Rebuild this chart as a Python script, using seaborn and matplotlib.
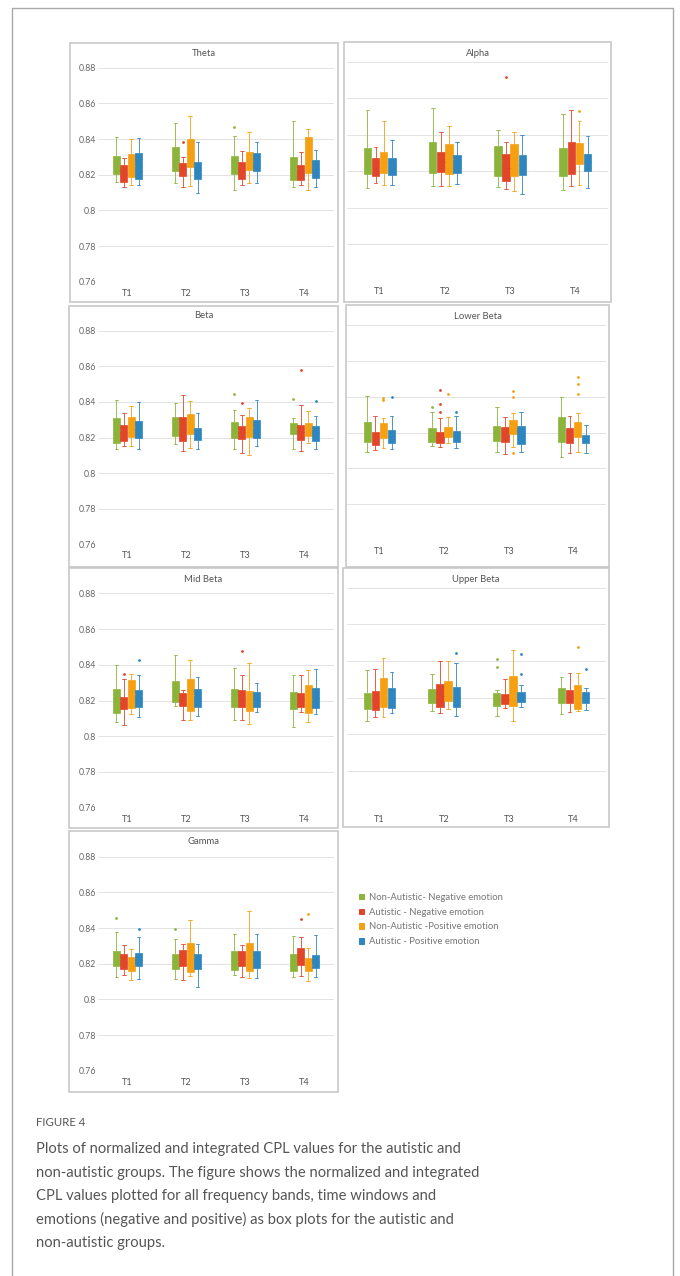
import numpy as np
import pandas as pd
import matplotlib
matplotlib.use("Agg")
import matplotlib.pyplot as plt
from matplotlib.patches import Rectangle
from matplotlib.lines import Line2D
import seaborn as sns

# ---------------- data ----------------
TIMES = ["T1", "T2", "T3", "T4"]
GROUPS = ["Non-Autistic- Negative emotion", "Autistic - Negative emotion",
          "Non-Autistic -Positive emotion", "Autistic - Positive emotion"]
COLORS = ["#8cb43a", "#e1452a", "#f5a013", "#2d86bf"]
Y_TICKS = [0.76, 0.78, 0.80, 0.82, 0.84, 0.86, 0.88]
Y_TICK_LABELS = ["0.76", "0.78", "0.8", "0.82", "0.84", "0.86", "0.88"]

# per time window -> per group: (whisker low, Q1, median, Q3, whisker high)
THETA = [
    [(0.8160, 0.8204, 0.8250, 0.8305, 0.8409), (0.8129, 0.8160, 0.8205, 0.8254, 0.8295),
     (0.8140, 0.8189, 0.8250, 0.8314, 0.8398), (0.8142, 0.8174, 0.8245, 0.8320, 0.8404)],
    [(0.8151, 0.8218, 0.8285, 0.8357, 0.8488), (0.8132, 0.8194, 0.8230, 0.8263, 0.8297),
     (0.8136, 0.8241, 0.8320, 0.8400, 0.8529), (0.8095, 0.8174, 0.8225, 0.8273, 0.8381)],
    [(0.8117, 0.8203, 0.8255, 0.8306, 0.8417), (0.8145, 0.8177, 0.8225, 0.8271, 0.8334),
     (0.8155, 0.8226, 0.8275, 0.8327, 0.8441), (0.8155, 0.8220, 0.8270, 0.8323, 0.8385)],
    [(0.8132, 0.8170, 0.8235, 0.8300, 0.8503), (0.8140, 0.8168, 0.8210, 0.8252, 0.8329),
     (0.8114, 0.8207, 0.8310, 0.8413, 0.8456), (0.8132, 0.8183, 0.8230, 0.8282, 0.8338)],
]
THETA_OUT = [("T2", 1, 0.8381), ("T3", 0, 0.8465)]

ALPHA = [
    [(0.8110, 0.8183, 0.8255, 0.8328, 0.8536), (0.8136, 0.8174, 0.8225, 0.8275, 0.8334),
     (0.8123, 0.8193, 0.8250, 0.8308, 0.8477), (0.8127, 0.8182, 0.8225, 0.8273, 0.8374)],
    [(0.8121, 0.8191, 0.8275, 0.8361, 0.8545), (0.8121, 0.8194, 0.8250, 0.8308, 0.8417),
     (0.8121, 0.8183, 0.8265, 0.8347, 0.8448), (0.8128, 0.8191, 0.8240, 0.8290, 0.8361)],
    [(0.8114, 0.8172, 0.8255, 0.8339, 0.8426), (0.8101, 0.8145, 0.8220, 0.8297, 0.8361),
     (0.8092, 0.8172, 0.8260, 0.8349, 0.8417), (0.8077, 0.8178, 0.8235, 0.8290, 0.8398)],
    [(0.8099, 0.8174, 0.8250, 0.8325, 0.8517), (0.8117, 0.8187, 0.8275, 0.8360, 0.8536),
     (0.8123, 0.8242, 0.8300, 0.8356, 0.8477), (0.8110, 0.8200, 0.8250, 0.8297, 0.8393)],
]
ALPHA_OUT = [("T3", 1, 0.8719), ("T4", 2, 0.8532)]

BETA = [
    [(0.8136, 0.8170, 0.8240, 0.8308, 0.8408), (0.8151, 0.8183, 0.8230, 0.8273, 0.8338),
     (0.8151, 0.8204, 0.8260, 0.8314, 0.8376), (0.8136, 0.8196, 0.8245, 0.8290, 0.8400)],
    [(0.8166, 0.8207, 0.8260, 0.8316, 0.8394), (0.8123, 0.8179, 0.8250, 0.8316, 0.8437),
     (0.8142, 0.8217, 0.8275, 0.8333, 0.8404), (0.8136, 0.8185, 0.8220, 0.8254, 0.8338)],
    [(0.8136, 0.8198, 0.8240, 0.8286, 0.8357), (0.8114, 0.8189, 0.8230, 0.8267, 0.8329),
     (0.8099, 0.8204, 0.8260, 0.8314, 0.8366), (0.8151, 0.8198, 0.8250, 0.8301, 0.8409)],
    [(0.8136, 0.8217, 0.8250, 0.8279, 0.8310), (0.8123, 0.8185, 0.8230, 0.8273, 0.8385),
     (0.8170, 0.8211, 0.8245, 0.8279, 0.8348), (0.8136, 0.8179, 0.8225, 0.8267, 0.8320)],
]
BETA_OUT = [("T3", 0, 0.8445), ("T3", 1, 0.8396), ("T4", 0, 0.8419),
            ("T4", 1, 0.8581), ("T4", 3, 0.8404)]

LOWER_BETA = [
    [(0.8093, 0.8149, 0.8200, 0.8257, 0.8404), (0.8102, 0.8130, 0.8170, 0.8205, 0.8292),
     (0.8116, 0.8168, 0.8210, 0.8255, 0.8279), (0.8106, 0.8143, 0.8180, 0.8214, 0.8292)],
    [(0.8125, 0.8149, 0.8185, 0.8223, 0.8316), (0.8121, 0.8140, 0.8175, 0.8205, 0.8279),
     (0.8140, 0.8173, 0.8205, 0.8233, 0.8288), (0.8112, 0.8149, 0.8180, 0.8208, 0.8292)],
    [(0.8093, 0.8153, 0.8195, 0.8236, 0.8344), (0.8080, 0.8145, 0.8185, 0.8229, 0.8288),
     (0.8121, 0.8192, 0.8230, 0.8270, 0.8307), (0.8093, 0.8136, 0.8185, 0.8236, 0.8316)],
    [(0.8065, 0.8149, 0.8215, 0.8285, 0.8400), (0.8088, 0.8140, 0.8185, 0.8227, 0.8292),
     (0.8093, 0.8177, 0.8220, 0.8261, 0.8307), (0.8088, 0.8140, 0.8165, 0.8186, 0.8242)],
]
LOWER_BETA_OUT = [("T1", 2, 0.8395), ("T1", 2, 0.8381), ("T1", 3, 0.8396),
                  ("T2", 0, 0.8341), ("T2", 1, 0.8437), ("T2", 1, 0.8357), ("T2", 1, 0.8313),
                  ("T2", 2, 0.8415), ("T2", 3, 0.8316),
                  ("T3", 2, 0.8432), ("T3", 2, 0.8396), ("T3", 2, 0.8084),
                  ("T4", 2, 0.8512), ("T4", 2, 0.8471), ("T4", 2, 0.8413)]

MID_BETA = [
    [(0.8078, 0.8131, 0.8195, 0.8262, 0.8400), (0.8063, 0.8150, 0.8185, 0.8219, 0.8318),
     (0.8125, 0.8157, 0.8235, 0.8312, 0.8350), (0.8107, 0.8166, 0.8215, 0.8260, 0.8340)],
    [(0.8168, 0.8191, 0.8250, 0.8307, 0.8456), (0.8093, 0.8168, 0.8205, 0.8243, 0.8260),
     (0.8093, 0.8140, 0.8230, 0.8322, 0.8428), (0.8112, 0.8166, 0.8215, 0.8265, 0.8331)],
    [(0.8093, 0.8163, 0.8215, 0.8265, 0.8381), (0.8093, 0.8166, 0.8210, 0.8256, 0.8340),
     (0.8069, 0.8140, 0.8195, 0.8252, 0.8411), (0.8135, 0.8163, 0.8205, 0.8247, 0.8297)],
    [(0.8054, 0.8150, 0.8200, 0.8247, 0.8344), (0.8135, 0.8166, 0.8205, 0.8241, 0.8340),
     (0.8082, 0.8129, 0.8210, 0.8288, 0.8368), (0.8125, 0.8157, 0.8215, 0.8269, 0.8378)],
]
MID_BETA_OUT = [("T1", 1, 0.8346), ("T1", 3, 0.8424), ("T3", 1, 0.8475)]

UPPER_BETA = [
    [(0.8074, 0.8138, 0.8180, 0.8227, 0.8351), (0.8096, 0.8133, 0.8185, 0.8238, 0.8357),
     (0.8096, 0.8151, 0.8230, 0.8306, 0.8418), (0.8114, 0.8142, 0.8200, 0.8255, 0.8342)],
    [(0.8129, 0.8173, 0.8210, 0.8246, 0.8327), (0.8114, 0.8147, 0.8210, 0.8275, 0.8402),
     (0.8138, 0.8182, 0.8235, 0.8293, 0.8402), (0.8102, 0.8147, 0.8205, 0.8260, 0.8391)],
    [(0.8102, 0.8155, 0.8190, 0.8225, 0.8242), (0.8142, 0.8164, 0.8190, 0.8218, 0.8300),
     (0.8074, 0.8155, 0.8235, 0.8318, 0.8460), (0.8151, 0.8175, 0.8205, 0.8233, 0.8269)],
    [(0.8109, 0.8169, 0.8210, 0.8251, 0.8315), (0.8124, 0.8173, 0.8205, 0.8242, 0.8333),
     (0.8127, 0.8138, 0.8205, 0.8269, 0.8333), (0.8133, 0.8169, 0.8200, 0.8233, 0.8255)],
]
UPPER_BETA_OUT = [("T2", 3, 0.8442), ("T3", 0, 0.8411), ("T3", 0, 0.8366),
                  ("T3", 3, 0.8438), ("T3", 3, 0.8329), ("T4", 2, 0.8478), ("T4", 3, 0.8357)]

GAMMA = [
    [(0.8125, 0.8185, 0.8225, 0.8269, 0.8378), (0.8138, 0.8168, 0.8210, 0.8252, 0.8307),
     (0.8107, 0.8157, 0.8195, 0.8237, 0.8284), (0.8116, 0.8185, 0.8220, 0.8260, 0.8350)],
    [(0.8112, 0.8168, 0.8210, 0.8256, 0.8340), (0.8107, 0.8185, 0.8230, 0.8275, 0.8312),
     (0.8131, 0.8153, 0.8235, 0.8316, 0.8443), (0.8069, 0.8172, 0.8210, 0.8252, 0.8312)],
    [(0.8138, 0.8166, 0.8215, 0.8269, 0.8368), (0.8125, 0.8185, 0.8225, 0.8269, 0.8307),
     (0.8120, 0.8157, 0.8240, 0.8318, 0.8494), (0.8120, 0.8178, 0.8225, 0.8269, 0.8365)],
    [(0.8125, 0.8159, 0.8205, 0.8256, 0.8355), (0.8131, 0.8191, 0.8240, 0.8288, 0.8350),
     (0.8101, 0.8159, 0.8195, 0.8232, 0.8288), (0.8125, 0.8176, 0.8210, 0.8250, 0.8363)],
]
GAMMA_OUT = [("T1", 0, 0.8456), ("T1", 3, 0.8393), ("T2", 0, 0.8396),
             ("T4", 1, 0.8449), ("T4", 2, 0.8481)]

CAPTION_TITLE = "FIGURE 4"
CAPTION_LINES = [
    "Plots of normalized and integrated CPL values for the autistic and",
    "non-autistic groups. The figure shows the normalized and integrated",
    "CPL values plotted for all frequency bands, time windows and",
    "emotions (negative and positive) as box plots for the autistic and",
    "non-autistic groups.",
]

# ---------------- helpers ----------------
M = 8  # samples per quartile block so the box statistics are reproduced exactly
WHIS = (100 * 4.5 / (4 * M), 100 * (4 * M - 4.5) / (4 * M))


def build_frame(stats, outliers):
    rows = []
    for ti, t in enumerate(TIMES):
        for gi, g in enumerate(GROUPS):
            lo, q1, md, q3, hi = stats[ti][gi]
            low_out = sorted(v for (tt, gg, v) in outliers if tt == t and gg == gi and v < lo)
            high_out = sorted(v for (tt, gg, v) in outliers if tt == t and gg == gi and v > hi)
            vals = [lo] * M + [q1] * M + [md] + [q3] * M + [hi] * M
            if low_out:
                vals[:len(low_out)] = low_out
            if high_out:
                vals[len(vals) - len(high_out):] = high_out
            rows += [(t, g, v) for v in vals]
    return pd.DataFrame(rows, columns=["time", "group", "value"])


W, H = 680, 1276
sns.set_style("white")
plt.rcParams["font.family"] = ["Lato", "DejaVu Sans"]
fig = plt.figure(figsize=(W / 100, H / 100), dpi=100)


def fx(x):
    return x / W


def fy(y):
    return 1 - y / H


# page frame
for xs, ys in [((12, 12), (8, H)), ((12, 673), (8, 8)), ((673, 673), (8, H))]:
    fig.add_artist(Line2D([fx(xs[0]), fx(xs[1])], [fy(ys[0]), fy(ys[1])],
                          transform=fig.transFigure, color="#a9a9a9", lw=1.0))

PANELS = [
    # name, stats, outliers, frame (x0, y0, x1, y1), axes (x0, x1, y088, y076), show y labels, title y
    ("Theta", THETA, THETA_OUT, (70, 43, 338, 302), (98, 334, 67.7, 281.7), True, 53),
    ("Alpha", ALPHA, ALPHA_OUT, (344, 42, 611, 302), (347, 608, 62.0, 280.5), False, 53),
    ("Beta", BETA, BETA_OUT, (69, 306, 338, 567), (98, 334, 330.7, 544.3), True, 315),
    ("Lower Beta", LOWER_BETA, LOWER_BETA_OUT, (346, 305, 609, 567), (347, 606, 325.0, 540.0), False, 316.5),
    ("Mid Beta", MID_BETA, MID_BETA_OUT, (69, 568, 338, 828), (98, 334, 593.3, 807.7), True, 580),
    ("Upper Beta", UPPER_BETA, UPPER_BETA_OUT, (343, 568, 609, 827), (347, 606, 587.7, 807.7), False, 579),
    ("Gamma", GAMMA, GAMMA_OUT, (69, 831, 338, 1092), (98, 334, 856.7, 1070.7), True, 841.5),
]

legend_ax = None
for name, stats, outs, frame, axb, show_y, ty in PANELS:
    x0, y0, x1, y1 = frame
    fig.add_artist(Rectangle((fx(x0), fy(y1)), fx(x1) - fx(x0), fy(y0) - fy(y1),
                             transform=fig.transFigure, facecolor="none",
                             edgecolor="#c4c4c4", lw=1.1, zorder=0))
    fig.text(fx((x0 + x1) / 2), fy(ty), name, ha="center", va="center",
             fontsize=6.8, color="#555555")

    ax0, ax1, ytop, ybot = axb
    ax = fig.add_axes([fx(ax0), fy(ybot), fx(ax1) - fx(ax0), fy(ytop) - fy(ybot)])
    ax.set_facecolor("none")
    df = build_frame(stats, outs)
    is_legend = name == "Gamma"
    sns.boxplot(data=df, x="time", y="value", hue="group", order=TIMES, hue_order=GROUPS,
                palette=COLORS, saturation=1, width=0.5, gap=0.08, whis=WHIS, linewidth=0.7,
                fliersize=2.0, flierprops={"marker": "o"}, legend=is_legend, ax=ax)
    for c in ax.containers:
        if not hasattr(c, "boxes"):
            continue
        for i, b in enumerate(c.boxes):
            col = b.get_facecolor()
            b.set_edgecolor(col)
            b.set_linewidth(0.5)
            for art in list(c.whiskers[2 * i:2 * i + 2]) + list(c.caps[2 * i:2 * i + 2]):
                art.set_color(col)
                art.set_linewidth(0.6)
            c.medians[i].set_color(col)
            fl = c.fliers[i]
            fl.set_markerfacecolor(col)
            fl.set_markeredgecolor(col)
            fl.set_markeredgewidth(0)

    ax.set_xlim(-0.5, 3.5)
    ax.set_ylim(0.76, 0.88)
    ax.set_yticks(Y_TICKS)
    ax.set_yticklabels(Y_TICK_LABELS)
    ax.set_xlabel("")
    ax.set_ylabel("")
    ax.grid(axis="y", color="#e3e3e3", lw=0.7)
    ax.grid(axis="x", visible=False)
    ax.set_axisbelow(True)
    for s in ax.spines.values():
        s.set_visible(False)
    ax.tick_params(axis="y", length=0, pad=1.5, labelsize=6.3, labelcolor="#666666",
                   labelleft=show_y)
    ax.tick_params(axis="x", length=0, pad=5, labelsize=6.6, labelcolor="#555555")
    if is_legend:
        legend_ax = ax

# legend in the empty cell
sns.move_legend(legend_ax, "upper left", bbox_to_anchor=(fx(355), fy(889)),
                bbox_transform=fig.transFigure, frameon=False, title=None,
                fontsize=6.8, handlelength=0.5, handleheight=0.5,
                handletextpad=0.55, labelspacing=0.62, borderaxespad=0)
leg = legend_ax.get_legend()
for h, col in zip(leg.legend_handles, COLORS):
    h.set_facecolor(col)
    h.set_edgecolor(col)
for t in leg.get_texts():
    t.set_color("#777777")

# caption
fig.text(fx(36), fy(1123), CAPTION_TITLE, ha="left", va="center",
         fontsize=8.2, color="#555555")
for i, line in enumerate(CAPTION_LINES):
    fig.text(fx(36), fy(1149 + i * 23.5), line, ha="left", va="center",
             fontsize=10.6, color="#555555")

fig.savefig("out.png", dpi=100)
